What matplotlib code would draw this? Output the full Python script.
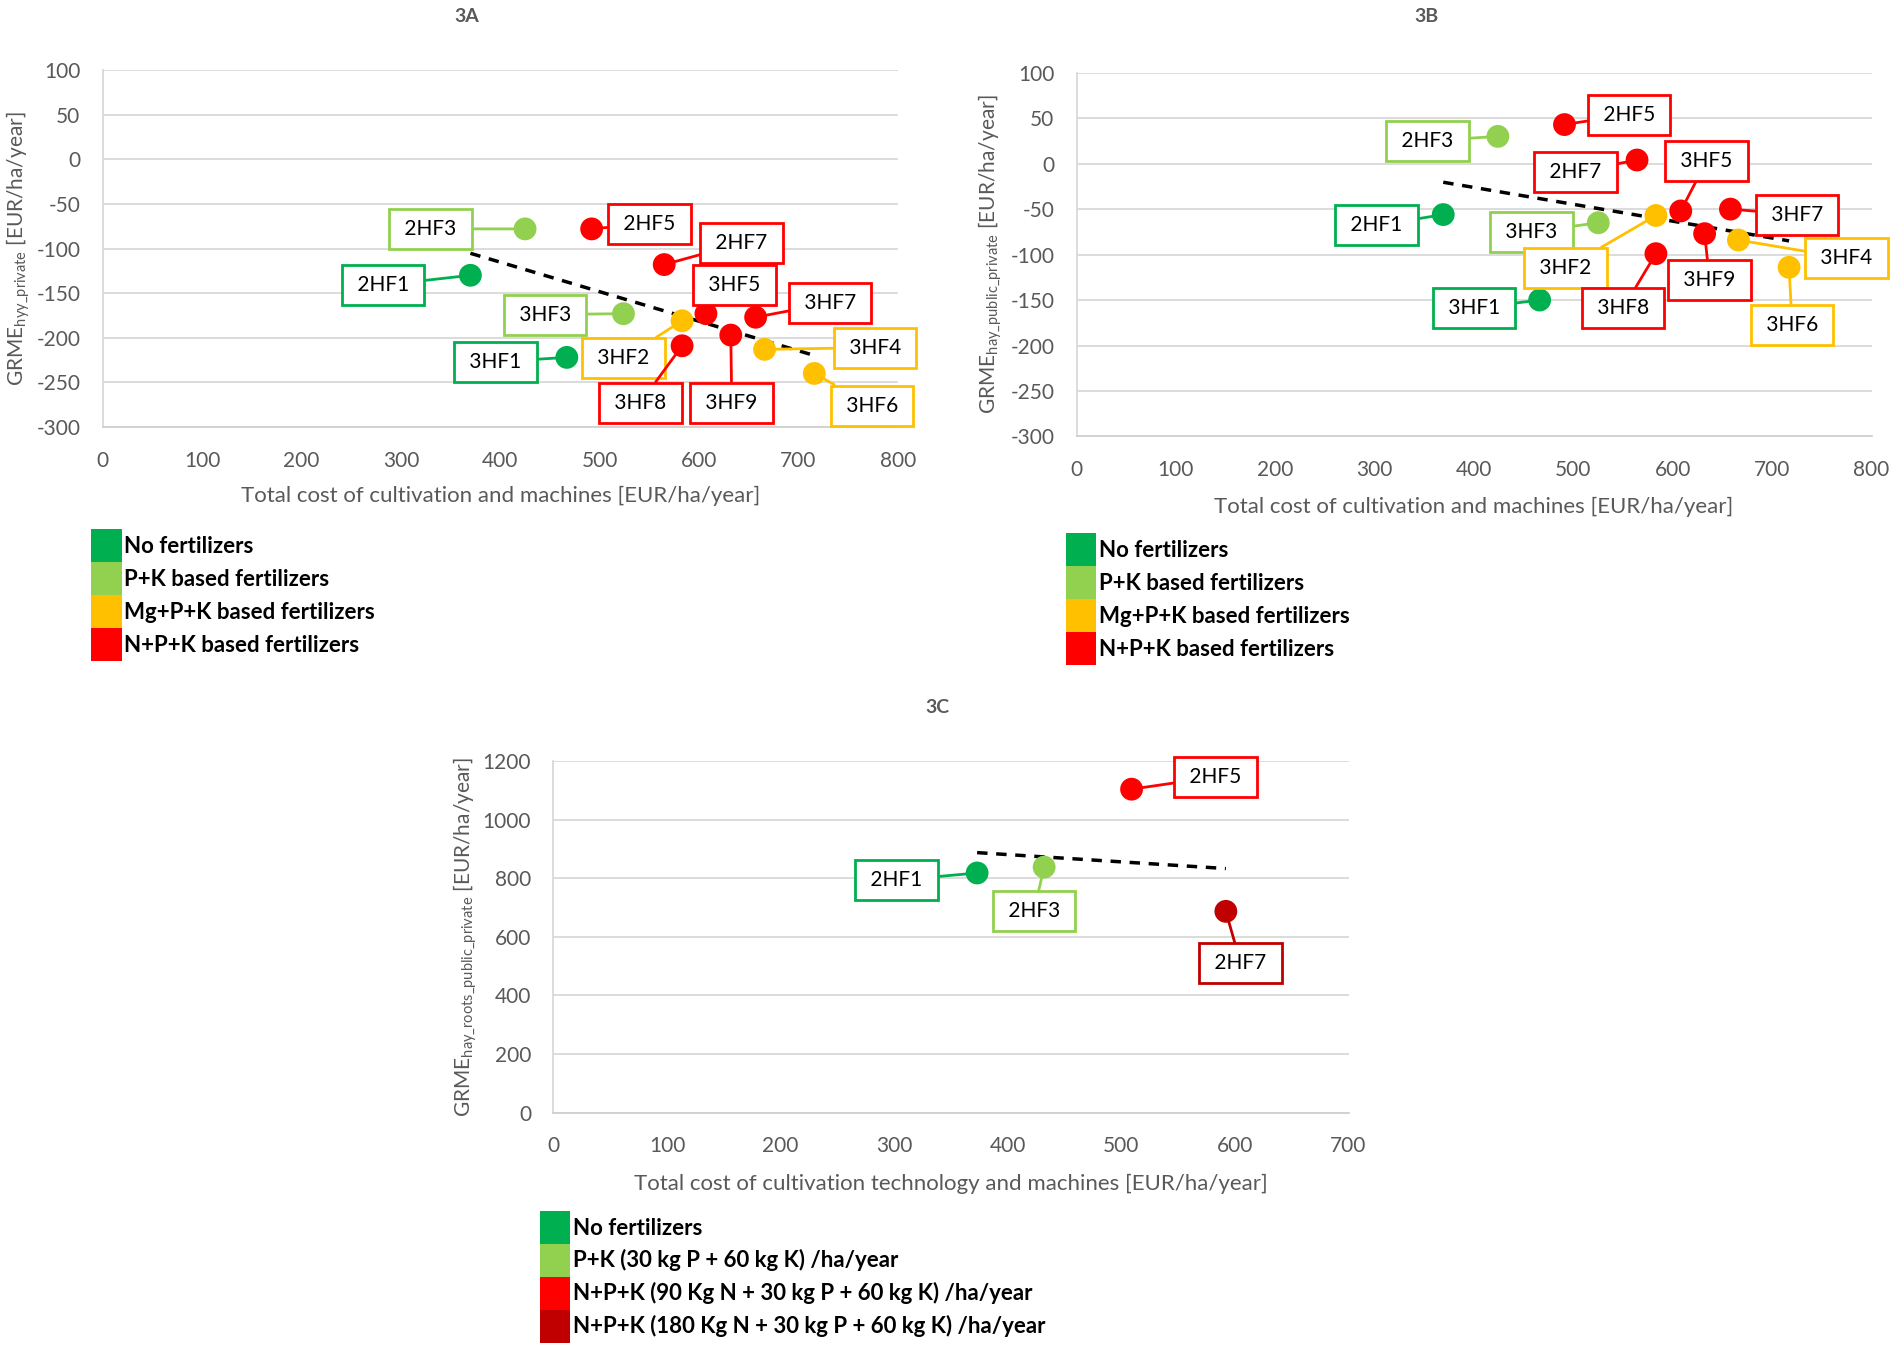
import numpy as np
import matplotlib.pyplot as plt
from matplotlib.patches import Patch

plt.rcParams['font.family'] = ['Lato', 'DejaVu Sans']
plt.rcParams['axes.unicode_minus'] = False

GREEN = '#00b050'
LGREEN = '#92d050'
YELLOW = '#ffc000'
RED = '#ff0000'
DRED = '#c00000'
GREY = '#595959'

# --- 3A: private GRME, hay ---
names_a = ['2HF1', '2HF3', '2HF5', '2HF7', '3HF1', '3HF3', '3HF2', '3HF4', '3HF6',
           '3HF5', '3HF7', '3HF8', '3HF9']
cost_a = [370, 425, 492, 565, 467, 524, 583, 666, 716, 607, 657, 583, 632]
grme_a = [-130, -78, -78, -118, -222, -173, -181, -213, -240, -173, -177, -209, -197]
group_a = ['none', 'pk', 'npk', 'npk', 'none', 'pk', 'mgpk', 'mgpk', 'mgpk',
           'npk', 'npk', 'npk', 'npk']

# --- 3B: public+private GRME, hay ---
names_b = names_a
cost_b = [369, 424, 491, 564, 466, 525, 583, 666, 717, 608, 658, 583, 632]
grme_b = [-56, 30, 43, 4, -150, -65, -57, -84, -114, -52, -50, -99, -77]
group_b = group_a

# --- 3C: public+private GRME, hay + roots ---
names_c = ['2HF1', '2HF3', '2HF5', '2HF7']
cost_c = [373, 432, 509, 592]
grme_c = [818, 838, 1104, 687]
group_c = ['none', 'pk', 'npk90', 'npk180']

colors = {'none': GREEN, 'pk': LGREEN, 'mgpk': YELLOW, 'npk': RED,
          'npk90': RED, 'npk180': DRED}

legend_ab = ['No fertilizers', 'P+K based fertilizers', 'Mg+P+K based fertilizers',
             'N+P+K based fertilizers']
legend_c = ['No fertilizers', 'P+K (30 kg P + 60 kg K) /ha/year',
            'N+P+K (90 Kg N + 30 kg P + 60 kg K) /ha/year',
            'N+P+K (180 Kg N + 30 kg P + 60 kg K) /ha/year']

# label box positions (data coords)
lab_a = {'2HF1': (282, -141), '2HF3': (330, -78), '2HF5': (550, -72), '2HF7': (643, -94),
         '3HF1': (395, -227), '3HF3': (445, -174), '3HF2': (524, -223), '3HF4': (777, -211),
         '3HF6': (774, -276), '3HF5': (636, -141), '3HF7': (732, -161), '3HF8': (541, -273),
         '3HF9': (633, -273)}
lab_b = {'2HF1': (302, -68), '2HF3': (353, 25), '2HF5': (556, 54), '2HF7': (502, -9),
         '3HF1': (400, -159), '3HF3': (458, -75), '3HF2': (492, -115), '3HF4': (775, -104),
         '3HF6': (720, -177), '3HF5': (634, 3), '3HF7': (725, -56), '3HF8': (550, -159),
         '3HF9': (637, -128)}
lab_c = {'2HF1': (302, 793), '2HF3': (423, 687), '2HF5': (583, 1146), '2HF7': (605, 510)}

fig = plt.figure(figsize=(19.02, 13.47), dpi=100)
ax_a = fig.add_axes([0.054, 0.683, 0.418, 0.265])
ax_b = fig.add_axes([0.566, 0.676, 0.418, 0.270])
ax_c = fig.add_axes([0.291, 0.174, 0.418, 0.261])


def draw(ax, names, x, y, groups, labpos, xmax, ylim, yticks, xlabel, ylabel, ylab_x, xlab_y):
    x = np.array(x, dtype=float)
    y = np.array(y, dtype=float)
    ax.set_xlim(0, xmax)
    ax.set_ylim(*ylim)
    ax.set_yticks(yticks)
    ax.set_xticks(np.arange(0, xmax + 1, 100))
    ax.grid(axis='y', color='#d9d9d9', lw=1.3)
    ax.set_axisbelow(True)
    for s in ['top', 'right']:
        ax.spines[s].set_visible(False)
    ax.spines['left'].set_color('#d9d9d9')
    ax.spines['bottom'].set_color('#d0d0d0')
    ax.spines['left'].set_linewidth(1.3)
    ax.spines['bottom'].set_linewidth(1.3)
    ax.tick_params(length=0, labelsize=15, labelcolor=GREY)
    ax.tick_params(axis='x', pad=17)
    ax.tick_params(axis='y', pad=16)

    # trendline
    k, b = np.polyfit(x, y, 1)
    xt = np.array([x.min(), x.max()])
    ax.plot(xt, k * xt + b, ls=(0, (3, 2.5)), color='black', lw=2.5, zorder=2)

    for n, xi, yi, g in zip(names, x, y, groups):
        c = colors[g]
        ax.scatter(xi, yi, s=270, color=c, zorder=4, edgecolors='none')
        ax.annotate(' ' + n + ' ', xy=(xi, yi), xytext=labpos[n], textcoords='data',
                    ha='center', va='center', fontsize=15, color='black', zorder=5,
                    bbox=dict(boxstyle='square,pad=0.48', fc='white', ec=c, lw=2),
                    arrowprops=dict(arrowstyle='-', color=c, lw=2, shrinkA=0, shrinkB=0))

    ax.set_xlabel(xlabel, fontsize=16, color=GREY)
    ax.xaxis.set_label_coords(0.5, xlab_y)
    ax.set_ylabel(ylabel, fontsize=15, color=GREY)
    ax.yaxis.set_label_coords(ylab_x, 0.5)


draw(ax_a, names_a, cost_a, grme_a, group_a, lab_a, 800, (-300, 100),
     np.arange(-300, 101, 50), 'Total cost of cultivation and machines [EUR/ha/year]',
     r'GRME$_{\mathregular{hyy\_private}}$ [EUR/ha/year]', -0.089, -0.165)
draw(ax_b, names_b, cost_b, grme_b, group_b, lab_b, 800, (-300, 100),
     np.arange(-300, 101, 50), 'Total cost of cultivation and machines [EUR/ha/year]',
     r'GRME$_{\mathregular{hay\_public\_private}}$ [EUR/ha/year]', -0.091, -0.165)
draw(ax_c, names_c, cost_c, grme_c, group_c, lab_c, 700, (0, 1200),
     np.arange(0, 1201, 200), 'Total cost of cultivation technology and machines [EUR/ha/year]',
     r'GRME$_{\mathregular{hay\_roots\_public\_private}}$ [EUR/ha/year]', -0.094, -0.175)

fig.text(0.2455, 0.988, '3A', ha='center', va='center', fontsize=14, fontweight='bold', color=GREY)
fig.text(0.750, 0.988, '3B', ha='center', va='center', fontsize=14, fontweight='bold', color=GREY)
fig.text(0.493, 0.475, '3C', ha='center', va='center', fontsize=14, fontweight='bold', color=GREY)


def add_legend(labels, cols, anchor):
    handles = [Patch(facecolor=c, edgecolor='none') for c in cols]
    fig.legend(handles, labels, loc='upper left', bbox_to_anchor=anchor,
               bbox_transform=fig.transFigure, frameon=False, handlelength=1.36,
               handleheight=1.9, handletextpad=0.12, labelspacing=0, borderpad=0,
               borderaxespad=0, prop={'size': 16, 'weight': 'bold'})


add_legend(legend_ab, [GREEN, LGREEN, YELLOW, RED], (0.048, 0.607))
add_legend(legend_ab, [GREEN, LGREEN, YELLOW, RED], (0.5605, 0.604))
add_legend(legend_c, [GREEN, LGREEN, RED, DRED], (0.284, 0.101))

fig.savefig('out.png', dpi=100, facecolor='white')
